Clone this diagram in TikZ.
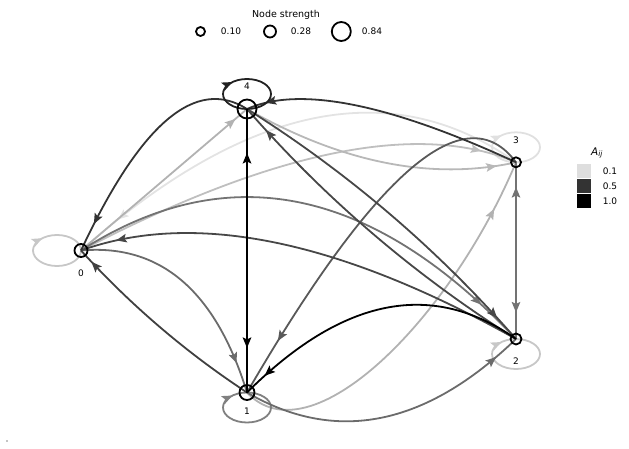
\documentclass[tikz,border=0pt]{standalone}
\usepackage{fontspec}
\setmainfont{DejaVu Sans}
\usetikzlibrary{arrows.meta,decorations.markings,calc}
\pgfdeclarelayer{background}
\pgfsetlayers{background,main}
\tikzset{
  vtx/.style={circle, draw=black, line width=1.8pt, inner sep=0pt, minimum size=#1},
  lnk/.style={line width=1.8pt, draw=#1},
  tipat/.style={postaction={decorate}, decoration={markings, mark=at position #1 with {\arrow{Stealth[length=10.5pt,width=8.5pt,inset=2pt]}}}},
  revtipat/.style={postaction={decorate}, decoration={markings, mark=at position #1 with {\arrowreversed{Stealth[length=10.5pt,width=8.5pt,inset=2pt]}}}},
  lbl/.style={font=\fontsize{9}{10}\selectfont, inner sep=0pt},
  sq/.style={draw=none, fill=#1, minimum width=14pt, minimum height=13.5pt, inner sep=0pt},
}
\newcommand\qcurve[4]{\draw[#1] (#2.center) .. controls ($(#2.center)!0.6667!(#3)$) and ($(#4.center)!0.6667!(#3)$) .. (#4.center);}
\begin{document}
\begin{tikzpicture}[x=1pt,y=-1pt]
\useasboundingbox (0,0) rectangle (629,449);
% nodes
\node[vtx=13pt] (n0) at (81,250.5) {};
\node[vtx=15pt] (n1) at (247,392.5) {};
\node[vtx=11pt] (n2) at (516,339) {};
\node[vtx=10pt] (n3) at (516,162.3) {};
\node[vtx=19pt] (n4) at (247,109) {};
\node[lbl] (l0) at (81,273) {0};
\node[lbl] (l1) at (247,411) {1};
\node[lbl] (l2) at (516,361) {2};
\node[lbl] (l3) at (516,140) {3};
\node[lbl] (l4) at (247,86) {4};
\begin{pgfonlayer}{background}
% light edges first
\qcurve{lnk=black!11, tipat=0.9}{n3}{330,30}{n0}
\draw[lnk=black!12, revtipat=0.37] ([yshift=15pt]n3.center) ellipse [x radius=24pt, y radius=15pt];
\draw[lnk=black!22, revtipat=0.37] ([xshift=-24pt]n0.center) ellipse [x radius=24pt, y radius=15.5pt];
\draw[lnk=black!22, revtipat=0.37] ([yshift=-15pt]n2.center) ellipse [x radius=24pt, y radius=15pt];
\qcurve{lnk=black!25, tipat=0.92}{n0}{370,100}{n3}
\qcurve{lnk=black!28, tipat=0.93}{n4}{390,190}{n3}
\draw[lnk=black!30, tipat=0.93] (n0.center) -- (n4.center);
\draw[lnk=black!30, tipat=0.87] (n1.center) .. controls (310,460) and (450,320) .. (n3.center);
\draw[lnk=black!50, revtipat=0.37] ([yshift=-15pt]n1.center) ellipse [x radius=24pt, y radius=15pt];
\draw[lnk=black!55, tipat=0.86] (n2.center) -- (n3.center);
\draw[lnk=black!55, tipat=0.85] (n3.center) -- (n2.center);
\qcurve{lnk=black!55, tipat=0.9}{n0}{300,110}{n2}
\qcurve{lnk=black!58, tipat=0.91}{n1}{380,470}{n2}
\qcurve{lnk=black!58, tipat=0.87}{n0}{200,240}{n1}
\qcurve{lnk=black!65, tipat=0.85}{n3}{440,60}{n1}
\qcurve{lnk=black!72, tipat=0.92}{n2}{250,190}{n0}
\qcurve{lnk=black!72, tipat=0.92}{n2}{364.6,243.8}{n4}
\qcurve{lnk=black!72, tipat=0.92}{n4}{398.4,204.2}{n2}
\qcurve{lnk=black!75, tipat=0.93}{n1}{155,332}{n0}
\qcurve{lnk=black!80, tipat=0.88}{n4}{170,60}{n0}
\qcurve{lnk=black!80, tipat=0.93}{n3}{325,74}{n4}
\draw[lnk=black!87, revtipat=0.37] ([yshift=15pt]n4.center) ellipse [x radius=24pt, y radius=15pt];
\draw[lnk=black, line width=2pt, tipat=0.845] (n1.center) -- (n4.center);
\draw[lnk=black, line width=2pt, tipat=0.843] (n4.center) -- (n1.center);
\qcurve{lnk=black, tipat=0.92}{n2}{390,250}{n1}
\end{pgfonlayer}
% node strength legend
\node[lbl, font=\fontsize{9.5}{11}\selectfont] (lt) at (286,15) {Node strength};
\node[vtx=9pt] (s1) at (200.5,31.5) {};
\node[vtx=12pt] (s2) at (270,31.5) {};
\node[vtx=19pt] (s3) at (341.3,31.5) {};
\node[lbl] (t1) at (231,31.5) {0.10};
\node[lbl] (t2) at (301,31.5) {0.28};
\node[lbl] (t3) at (372,31.5) {0.84};
% A_ij legend
\node[lbl, font=\fontsize{10.5}{12}\selectfont] (at) at (597,153) {\itshape A\textsubscript{\itshape ij}};
\node[sq=black!13] (q1) at (584,171) {};
\node[sq=black!80] (q2) at (584,186) {};
\node[sq=black] (q3) at (584,201) {};
\node[lbl] (u1) at (610,171) {0.1};
\node[lbl] (u2) at (610,186) {0.5};
\node[lbl] (u3) at (610,201) {1.0};
\fill (7,441) circle (0.6pt);
\end{tikzpicture}
\end{document}
